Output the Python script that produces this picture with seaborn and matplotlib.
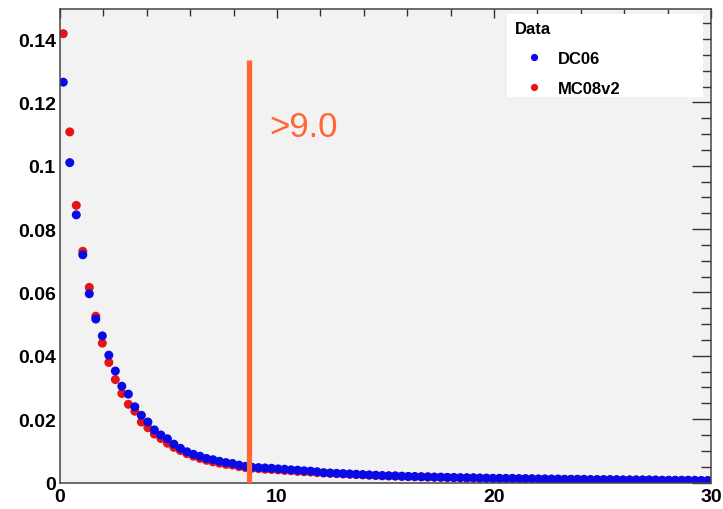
import numpy as np
import pandas as pd
import matplotlib
matplotlib.use("Agg")
import matplotlib.pyplot as plt
from matplotlib.lines import Line2D
from matplotlib.patches import Rectangle
from matplotlib.ticker import MultipleLocator, FixedLocator
import seaborn as sns

# ---------------- data ----------------
x_min, x_max, n_bins = 0.0, 30.0, 100
bin_width = (x_max - x_min) / n_bins
bin_centers = [round(x_min + bin_width * (i + 0.5), 4) for i in range(n_bins)]

dc06 = [
    0.1264, 0.1010, 0.0845, 0.0719, 0.0596, 0.0516, 0.0463, 0.0402, 0.0352, 0.0304,
    0.0279, 0.0239, 0.0212, 0.0191, 0.0166, 0.0150, 0.0138, 0.0121, 0.0108, 0.0097,
    0.0089, 0.0083, 0.0076, 0.0072, 0.0067, 0.0063, 0.0060, 0.0055, 0.0051, 0.0048,
    0.0047, 0.0046, 0.0045, 0.0043, 0.0042, 0.0040, 0.0039, 0.0037, 0.0036, 0.0034,
    0.0031, 0.0030, 0.0029, 0.0028, 0.0027, 0.0026, 0.0025, 0.0024, 0.0023, 0.0022,
    0.0021, 0.0021, 0.0020, 0.0019, 0.0019, 0.0018, 0.0018, 0.0017, 0.0017, 0.0016,
    0.0016, 0.0015, 0.0015, 0.0015, 0.0014, 0.0014, 0.0013, 0.0013, 0.0013, 0.0013,
    0.0012, 0.0012, 0.0012, 0.0011, 0.0011, 0.0011, 0.0011, 0.0010, 0.0010, 0.0010,
    0.0010, 0.0009, 0.0009, 0.0009, 0.0009, 0.0009, 0.0008, 0.0008, 0.0008, 0.0008,
    0.0008, 0.0008, 0.0007, 0.0007, 0.0007, 0.0007, 0.0007, 0.0007, 0.0006, 0.0006,
]
mc08v2 = [
    0.1417, 0.1107, 0.0875, 0.0730, 0.0616, 0.0525, 0.0440, 0.0379, 0.0325, 0.0281,
    0.0247, 0.0225, 0.0191, 0.0173, 0.0153, 0.0139, 0.0124, 0.0111, 0.0101, 0.0091,
    0.0083, 0.0076, 0.0070, 0.0065, 0.0061, 0.0057, 0.0055, 0.0050, 0.0047, 0.0045,
    0.0044, 0.0042, 0.0041, 0.0040, 0.0038, 0.0037, 0.0035, 0.0034, 0.0033, 0.0031,
    0.0030, 0.0029, 0.0028, 0.0027, 0.0026, 0.0025, 0.0024, 0.0023, 0.0022, 0.0021,
    0.0021, 0.0020, 0.0019, 0.0019, 0.0018, 0.0018, 0.0017, 0.0017, 0.0016, 0.0016,
    0.0015, 0.0015, 0.0014, 0.0014, 0.0014, 0.0013, 0.0013, 0.0013, 0.0012, 0.0012,
    0.0012, 0.0012, 0.0011, 0.0011, 0.0011, 0.0010, 0.0010, 0.0010, 0.0010, 0.0010,
    0.0009, 0.0009, 0.0009, 0.0009, 0.0009, 0.0008, 0.0008, 0.0008, 0.0008, 0.0008,
    0.0008, 0.0007, 0.0007, 0.0007, 0.0007, 0.0007, 0.0007, 0.0006, 0.0006, 0.0006,
]
series_names = ["DC06", "MC08v2"]
cut_value = 8.7
cut_top = 0.1333
cut_label = ">9.0"
y_tick_values = [0, 0.02, 0.04, 0.06, 0.08, 0.1, 0.12, 0.14]
y_tick_labels = ["0", "0.02", "0.04", "0.06", "0.08", "0.1", "0.12", "0.14"]
x_tick_values = [0, 10, 20, 30]
x_tick_labels = ["0", "10", "20", "30"]

# draw red first so blue sits on top
df = pd.concat([
    pd.DataFrame({"x": bin_centers, "y": mc08v2, "sample": "MC08v2"}),
    pd.DataFrame({"x": bin_centers, "y": dc06, "sample": "DC06"}),
], ignore_index=True)

colors = {"DC06": "#0a0ae6", "MC08v2": "#e61414"}

# ---------------- figure ----------------
sns.set_theme(style="white")
plt.rcParams["font.family"] = ["Liberation Sans", "DejaVu Sans"]
plt.rcParams["text.color"] = "black"

W, H = 723, 510
fig = plt.figure(figsize=(W / 100, H / 100), dpi=100)
ax = fig.add_axes([60 / W, 1 - 483.5 / H, 651 / W, 473.5 / H])
ax.set_facecolor("#f2f2f2")

sns.scatterplot(data=df, x="x", y="y", hue="sample", palette=colors,
                s=42, linewidth=0, edgecolor="none", legend=False, ax=ax)

ax.plot([cut_value, cut_value], [0, cut_top], color="#ff6633", lw=3.8,
        solid_capstyle="butt", zorder=5)
ax.text(9.65, 0.1095, cut_label, color="#ff6633", fontsize=25,
        ha="left", va="baseline")

ax.set_xlim(x_min, x_max)
ax.set_ylim(0, 0.1495)
ax.set_xlabel("")
ax.set_ylabel("")

ax.xaxis.set_major_locator(FixedLocator(x_tick_values))
ax.set_xticklabels(x_tick_labels)
ax.xaxis.set_minor_locator(MultipleLocator(2))
ax.yaxis.set_major_locator(FixedLocator(y_tick_values))
ax.set_yticklabels(y_tick_labels)
ax.yaxis.set_minor_locator(MultipleLocator(0.005))

ax.tick_params(which="both", direction="in", top=True, right=True,
               color="#333333", width=1.0)
ax.tick_params(axis="x", which="major", length=6.5, pad=4)
ax.tick_params(axis="x", which="minor", length=5)
ax.tick_params(axis="y", which="major", length=14, pad=3)
ax.tick_params(axis="y", which="minor", length=7)
for lab in ax.get_xticklabels() + ax.get_yticklabels():
    lab.set_fontweight("bold")
    lab.set_fontsize(14)
    lab.set_color("black")

for sp in ax.spines.values():
    sp.set_color("#444444")
    sp.set_linewidth(1.1)

# legend: white box (inside the axes artist list) + frameless legend on top
box = Rectangle((507 / W, 1 - 98 / H), 196 / W, 83 / H,
                transform=fig.transFigure, facecolor="white",
                edgecolor="none", zorder=9, clip_on=False)
ax.add_artist(box)

handles = [Line2D([], [], marker="o", ls="none", color=colors[n],
                  markersize=5.2, markeredgewidth=0) for n in series_names]
leg = ax.legend(handles, series_names, title="Data",
                loc="upper left", bbox_to_anchor=(507 / W, 1 - 15 / H),
                bbox_transform=fig.transFigure, frameon=False,
                prop={"weight": "bold", "size": 12},
                title_fontproperties={"weight": "bold", "size": 12},
                alignment="left", borderpad=0.45, labelspacing=0.88,
                handletextpad=0.3, handlelength=2.3, borderaxespad=0)
leg.set_zorder(10)
for t in leg.get_texts():
    t.set_color("black")
leg.get_title().set_color("black")

fig.savefig("out.png", dpi=100, facecolor="white")
